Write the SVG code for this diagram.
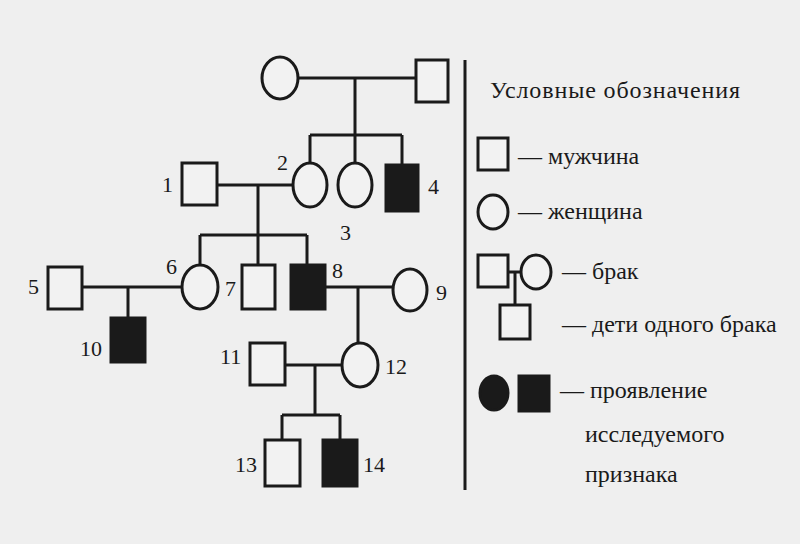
<svg xmlns="http://www.w3.org/2000/svg" width="800" height="544" viewBox="0 0 800 544">
<style>
.s{fill:none;stroke:#1a1a1a;stroke-width:3}
.f{fill:#1a1a1a;stroke:#1a1a1a;stroke-width:3}
.w{fill:#f2f2f2;stroke:#1a1a1a;stroke-width:3}
text{font-family:"Liberation Serif",serif;font-size:22px;fill:#1a1a1a}
.l{font-size:24px}
</style>
<rect width="800" height="544" fill="#efefef"/>
<g id="connectors" class="s">
<path d="M298 78H416M355 78V135M310 135H402M310 135V163M355 135V163M402 135V165"/>
<path d="M217 185H292M258 185V235M200 235H307M200 235V265M258 235V265M307 235V265"/>
<path d="M82 287H182M128 287V318"/>
<path d="M325 287H393M358 287V343"/>
<path d="M285 365H342M315 365V415M282 415H340M282 415V440M340 415V440"/>
<path d="M465 60V490"/>
<path d="M508 272H520M515 272V305"/>
</g>
<g id="n_gen1_f"><ellipse class="w" cx="280" cy="78" rx="18" ry="21"/></g>
<g id="n_gen1_m"><rect class="w" x="416" y="60" width="32" height="42"/></g>
<g id="n1"><rect class="w" x="182" y="163" width="35" height="42"/><text x="162" y="192">1</text></g>
<g id="n2"><ellipse class="w" cx="310" cy="185" rx="17" ry="22"/><text x="277" y="170">2</text></g>
<g id="n3"><ellipse class="w" cx="355" cy="185" rx="17" ry="22"/><text x="340" y="240">3</text></g>
<g id="n4"><rect class="f" x="386" y="165" width="32" height="46"/><text x="428" y="194">4</text></g>
<g id="n5"><rect class="w" x="48" y="267" width="34" height="42"/><text x="28" y="294">5</text></g>
<g id="n6"><ellipse class="w" cx="200" cy="287" rx="18" ry="22"/><text x="166" y="274">6</text></g>
<g id="n7"><rect class="w" x="242" y="265" width="33" height="44"/><text x="225" y="296">7</text></g>
<g id="n8"><rect class="f" x="291" y="265" width="34" height="44"/><text x="332" y="278">8</text></g>
<g id="n9"><ellipse class="w" cx="410" cy="290" rx="17" ry="21"/><text x="436" y="300">9</text></g>
<g id="n10"><rect class="f" x="111" y="318" width="34" height="44"/><text x="80" y="356">10</text></g>
<g id="n11"><rect class="w" x="250" y="343" width="35" height="42"/><text x="220" y="364">11</text></g>
<g id="n12"><ellipse class="w" cx="360" cy="365" rx="18" ry="22"/><text x="385" y="374">12</text></g>
<g id="n13"><rect class="w" x="265" y="440" width="35" height="46"/><text x="235" y="472">13</text></g>
<g id="n14"><rect class="f" x="323" y="440" width="34" height="46"/><text x="363" y="472">14</text></g>
<g id="legend">
<text class="l" x="490" y="98" textLength="250">Условные обозначения</text>
<rect class="w" x="478" y="138" width="30" height="32"/><text class="l" x="518" y="164">— мужчина</text>
<ellipse class="w" cx="493" cy="212" rx="15" ry="17"/><text class="l" x="518" y="219">— женщина</text>
<rect class="w" x="478" y="255" width="30" height="32"/><ellipse class="w" cx="536" cy="272" rx="15" ry="17"/><text class="l" x="562" y="279">— брак</text>
<rect class="w" x="500" y="305" width="30" height="34"/><text class="l" x="562" y="332">— дети одного брака</text>
<ellipse class="f" cx="494" cy="393" rx="14" ry="17"/><rect class="f" x="519" y="376" width="30" height="35"/>
<text class="l" x="560" y="398">— проявление</text><text class="l" x="585" y="442">исследуемого</text><text class="l" x="585" y="482">признака</text>
</g>
</svg>
